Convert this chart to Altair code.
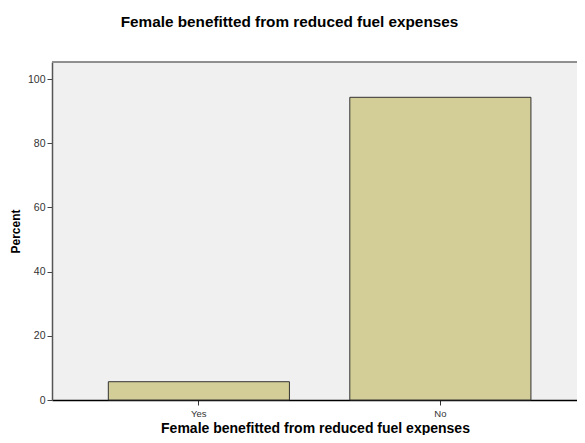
import altair as alt
import pandas as pd

categories = ["Yes", "No"]
percents = [5.7, 94.3]
y_ticks = [0, 20, 40, 60, 80, 100]

df = pd.DataFrame({"answer": categories, "percent": percents})

font = "Liberation Sans"
W, H = 525, 338

bars = alt.Chart(df).mark_bar(
    fill="#D3CE97", stroke="#333333", strokeWidth=1
).encode(
    x=alt.X(
        "answer:N",
        sort=categories,
        scale=alt.Scale(paddingInner=0.25, paddingOuter=0.212, align=0.55),
        axis=alt.Axis(
            title="Female benefitted from reduced fuel expenses",
            titleFont=font, titleFontSize=14, titleFontWeight="bold",
            titleColor="#000000", titleBaseline="alphabetic", titleY=32,
            titleX=263,
            labelFont=font, labelFontSize=9.5, labelColor="#333333",
            labelAngle=0, labelPadding=3,
            tickSize=5, tickColor="#333333",
            domainColor="#000000", domainWidth=1.5,
        ),
    ),
    y=alt.Y(
        "percent:Q",
        scale=alt.Scale(domain=[0, 105.3], nice=False, zero=True),
        axis=alt.Axis(
            title="Percent",
            values=y_ticks,
            titleFont=font, titleFontSize=12, titleFontWeight="bold",
            titleColor="#000000", titlePadding=5,
            labelFont=font, labelFontSize=10.5, labelColor="#333333",
            labelPadding=2,
            tickSize=5, tickColor="#444444",
            domainColor="#555555", domainWidth=1.5,
            grid=False,
        ),
    ),
)

top_border = alt.Chart(df).mark_rule(color="#8a8a8a", strokeWidth=1.5).encode(
    x=alt.value(0), x2=alt.value(W), y=alt.value(0)
)

chart = alt.layer(bars, top_border).properties(
    width=W,
    height=H,
    title=alt.TitleParams(
        "Female benefitted from reduced fuel expenses",
        font=font, fontSize=15.3, fontWeight="bold", color="#000000",
        anchor="middle", offset=31, dx=-25,
    ),
    autosize=alt.AutoSizeParams(type="none"),
    padding={"left": 44, "top": 54, "right": 0, "bottom": 35},
    background="#ffffff",
).configure_view(
    fill="#F0F0F0", stroke="#cccccc", strokeWidth=1
)

chart.save("out.html", embed_options={"renderer": "svg", "actions": False})
